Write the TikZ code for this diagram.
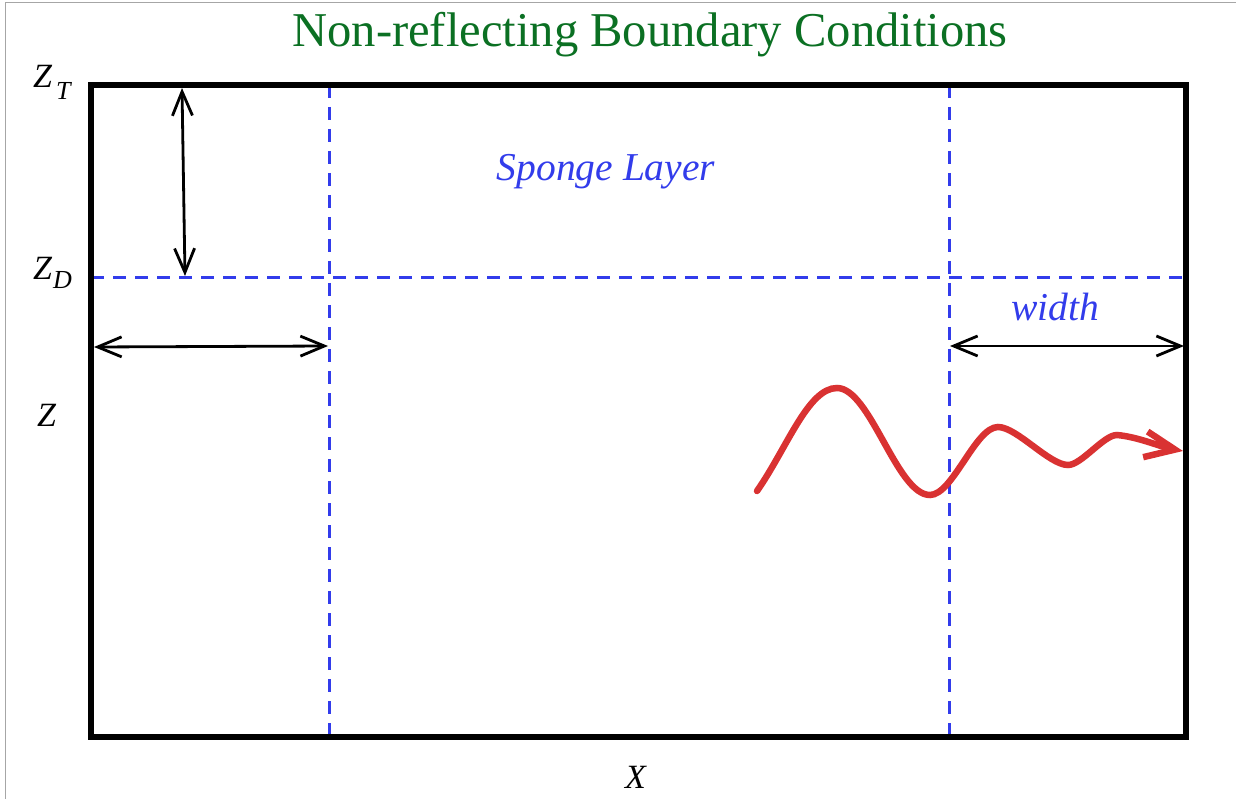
\documentclass[tikz,border=0pt]{standalone}
\usepackage{fontspec}
\setmainfont{Liberation Serif}
\usepackage{xcolor}
\usetikzlibrary{arrows.meta, positioning, calc}

\definecolor{titlegreen}{RGB}{11,112,35}
\definecolor{spongeblue}{RGB}{50,60,235}
\definecolor{wavered}{RGB}{217,50,50}

\begin{document}
\begin{tikzpicture}[
  x=1pt, y=1pt,
  frame/.style={line width=6.5pt, line join=miter},
  sponge/.style={spongeblue, line width=3pt, dash pattern=on 13pt off 9pt},
  dimarr/.style={{Straight Barb[length=24pt,width=20pt]}-{Straight Barb[length=24pt,width=20pt]},
                 line width=2.8pt},
  wave/.style={-{Straight Barb[length=30pt,width=26pt]}, wavered, line width=6.5pt, line cap=round},
  axlbl/.style={inner sep=0pt, anchor=base west, font=\fontsize{34}{40}\selectfont\itshape},
  lbl/.style={inner sep=0pt, anchor=base, text=spongeblue, font=\fontsize{39.5}{46}\selectfont\itshape},
  ttl/.style={inner sep=0pt, anchor=base, text=titlegreen, font=\fontsize{48.6}{58}\selectfont}
]
\useasboundingbox (0,0) rectangle (1236,-799);
\draw[gray!70, line width=1.5pt] (5.5,-799) -- (5.5,-2.5) -- (1236,-2.5);

% Domain corners and sponge boundaries
\coordinate (sw) at (91,-737);
\coordinate (ne) at (1186,-85);
\coordinate (zd west) at (91,-278);
\coordinate (zd east) at (1186,-278);
\coordinate (l top) at (329,-85);
\coordinate (l bot) at (329,-737);
\coordinate (r top) at (949,-85);
\coordinate (r bot) at (949,-737);

% Sponge layer lines
\draw[sponge] (zd west) -- (zd east);
\draw[sponge] (l top) -- (l bot);
\draw[sponge] (r top) -- (r bot);

% Domain
\draw[frame] (sw) rectangle (ne);

% Dimension arrows
\coordinate (dt) at (182,-88);
\coordinate (dd) at (185,-276);
\coordinate (lw a) at (94,-347);
\coordinate (lw b) at (328,-346);
\coordinate (rw a) at (950,-346);
\coordinate (rw b) at (1184,-346);
\foreach \s/\t in {dt/dd, lw a/lw b, rw a/rw b}
  \draw[dimarr] (\s) -- (\t);

% Outgoing wave
\draw[wave, looseness=0.6] (757,-491) .. controls (787,-448) and (808,-388) .. (837,-388)
  to[out=0,in=180] (930,-495)
  to[out=0,in=180] (998,-427) to[out=0,in=180] (1068,-465)
  to[out=0,in=180] (1117,-435) to[out=-5,in=170,looseness=0.8] (1183,-451);

% Labels
\node[ttl] (title) at (650,-47) {Non-reflecting Boundary Conditions};
\node[lbl] (sponge lbl) at (606,-181) {Sponge Layer};
\node[lbl] (width lbl) at (1055,-321) {width};
\node[axlbl] (zt) at (33,-88) {Z\kern4pt\raisebox{-12pt}{\fontsize{26}{30}\selectfont T}};
\node[axlbl] (zd) at (33,-280) {Z\kern1pt\raisebox{-9pt}{\fontsize{26}{30}\selectfont D}};
\node[axlbl] (z) at (37,-426) {Z};
\node[axlbl] (x) at (625,-788) {X};

\end{tikzpicture}
\end{document}
